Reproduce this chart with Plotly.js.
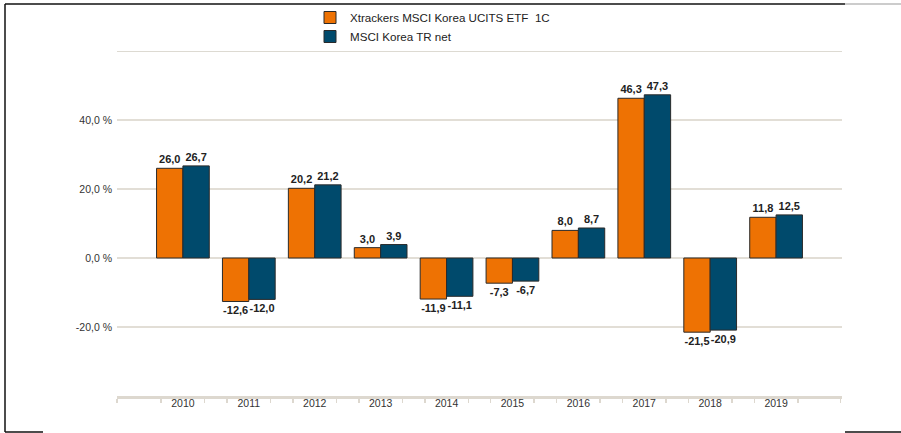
<!DOCTYPE html>
<html><head><meta charset="utf-8">
<script src="https://cdn.plot.ly/plotly-3.0.1.min.js"></script>
<style>body{margin:0;background:#fff}#c{width:901px;height:433px}</style>
</head><body><div id="c"></div>
<script>
const years = [2010,2011,2012,2013,2014,2015,2016,2017,2018,2019];
const etfName = "Xtrackers MSCI Korea UCITS ETF\u00a0\u00a01C";
const idxName = "MSCI Korea TR net";
const etfValues = [26.0,-12.6,20.2,3.0,-11.9,-7.3,8.0,46.3,-21.5,11.8];
const idxValues = [26.7,-12.0,21.2,3.9,-11.1,-6.7,8.7,47.3,-20.9,12.5];
const yTicks = [-20,0,20,40];
const yTickText = yTicks.map(v=>v.toFixed(1).replace('.',',')+' %');

const W=901,H=433,L=117,R=59,T=51,B=37;
const pw=W-L-R, ph=H-T-B;
const px=x=>(x-L)/pw, py=y=>(H-B-y)/ph;
function line(x0,y0,x1,y1,c,w){return {type:'line',xref:'paper',yref:'paper',x0:px(x0),y0:py(y0),x1:px(x1),y1:py(y1),line:{color:c,width:w}};}

const lblFont={family:'Liberation Sans, Arial, sans-serif',size:11,color:'#222',weight:'bold'};
const common={type:'bar',x:years,textposition:'outside',texttemplate:'%{y:.1f}',textfont:lblFont,cliponaxis:false,hoverinfo:'skip'};
const data=[
 Object.assign({},common,{name:etfName,y:etfValues,marker:{color:'#EE7203',line:{color:'#2a2a2a',width:1}}}),
 Object.assign({},common,{name:idxName,y:idxValues,marker:{color:'#004A6C',line:{color:'#2a2a2a',width:1}}})
];
const minorVals=[];
for(const y of years){minorVals.push(y-0.33,y+0.33);}
minorVals.push(2009.0,2019.98);
const layout={
 width:W,height:H,margin:{l:L,r:R,t:T,b:B,autoexpand:false},
 separators:', ',
 paper_bgcolor:'#fff',plot_bgcolor:'#fff',
 barmode:'group',bargap:0.2,bargroupgap:0,
 showlegend:true,
 legend:{xref:'container',yref:'container',x:310/W,y:1-3/H,xanchor:'left',yanchor:'top',orientation:'v',
   font:{family:'Liberation Sans, Arial, sans-serif',size:11.6,color:'#222'},tracegroupgap:0,itemwidth:30,bgcolor:'rgba(0,0,0,0)'},
 font:{family:'Liberation Sans, Arial, sans-serif',color:'#333'},
 xaxis:{type:'linear',range:[2009,2020],tickmode:'array',tickvals:years,ticktext:years.map(String),
   ticks:'',showgrid:false,zeroline:false,showline:true,linecolor:'#DDD8CF',linewidth:3,
   tickfont:{size:10.5,color:'#333'},ticklabelstandoff:-5,
   minor:{tickmode:'array',tickvals:minorVals,ticks:'outside',ticklen:4,tickcolor:'#DDD8CF',tickwidth:1.5,showgrid:false}},
 yaxis:{range:[-40,60],tickmode:'array',tickvals:yTicks,ticktext:yTickText,
   showgrid:true,gridcolor:'#E2DED6',gridwidth:1.5,zeroline:false,showline:false,
   tickfont:{size:10.5,color:'#333'},ticks:'',ticklabelstandoff:4},
 shapes:[
   {type:'line',xref:'paper',yref:'y',x0:0,x1:1,y0:60,y1:60,line:{color:'#DDDAD2',width:2},layer:'below'},
   line(5,4,845,4,'#111',1.5),
   line(845,4,901,4,'#999',1),
   line(5,4,5,432,'#111',1.5),
   line(5,432,43,432,'#111',1.5),
   line(845,432,901,432,'#111',1.5)
 ]
};
Plotly.newPlot('c',data,layout,{staticPlot:true});
</script></body></html>
